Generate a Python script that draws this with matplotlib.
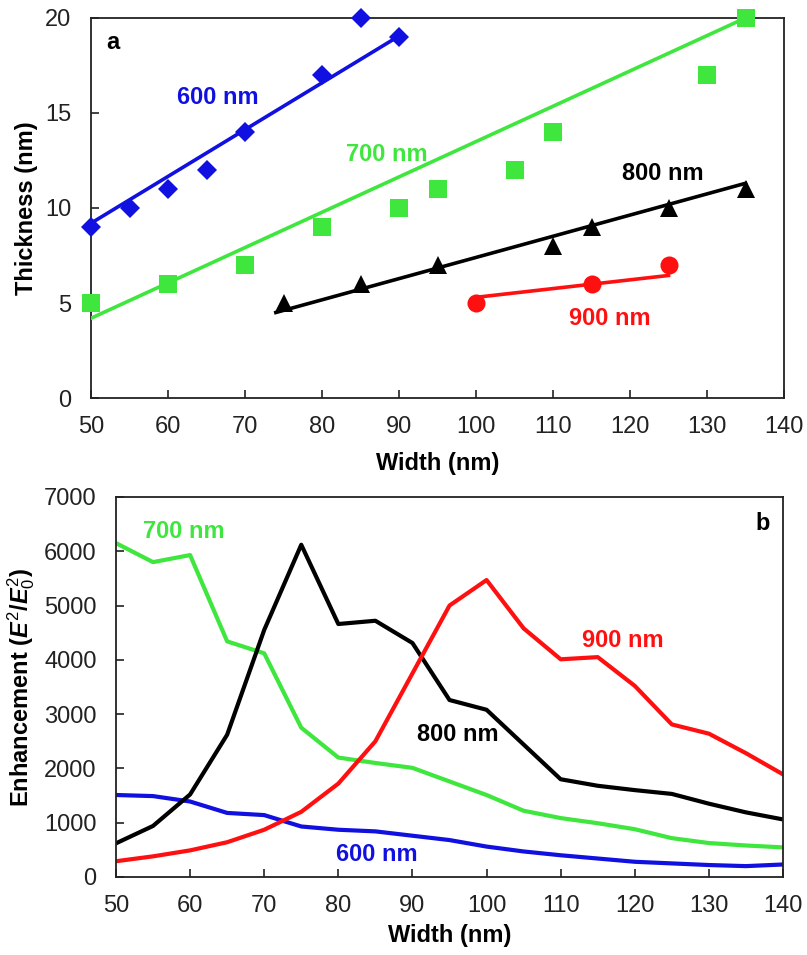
import matplotlib

matplotlib.use("Agg")
import matplotlib.pyplot as plt  # noqa: E402

plt.rcParams["font.family"] = ["Liberation Sans", "DejaVu Sans"]
plt.rcParams["mathtext.fontset"] = "custom"
plt.rcParams["mathtext.it"] = "Liberation Sans:italic:bold"
plt.rcParams["mathtext.rm"] = "Liberation Sans"

BLUE = "#1010e0"
GREEN = "#3ee63e"
BLACK = "#000000"
RED = "#ff1010"

# --- panel a: thickness vs width (markers) and trend lines ---
w600 = [50, 55, 60, 65, 70, 80, 85, 90]
t600 = [9, 10, 11, 12, 14, 17, 20, 19]
w700 = [50, 60, 70, 80, 90, 95, 105, 110, 130, 135]
t700 = [5, 6, 7, 9, 10, 11, 12, 14, 17, 20]
w800 = [75, 85, 95, 110, 115, 125, 135]
t800 = [5, 6, 7, 8, 9, 10, 11]
w900 = [100, 115, 125]
t900 = [5, 6, 7]

fit600_x, fit600_y = [50, 90], [9.2, 19.05]
fit700_x, fit700_y = [50, 135], [4.2, 20.0]
fit800_x, fit800_y = [74, 135], [4.5, 11.3]
fit900_x, fit900_y = [100, 125], [5.3, 6.45]

# --- panel b: enhancement vs width ---
width_b = [50, 55, 60, 65, 70, 75, 80, 85, 90, 95, 100, 105, 110, 115, 120, 125, 130, 135, 140]
enh600 = [1510, 1490, 1390, 1180, 1140, 930, 870, 840, 760, 680, 560, 470, 400, 340, 280, 250, 220, 200, 230]
enh700 = [6150, 5800, 5930, 4340, 4120, 2750, 2200, 2100, 2010, 1760, 1510, 1220, 1085, 990, 880, 715, 625, 580, 545]
enh800 = [620, 940, 1520, 2620, 4550, 6120, 4660, 4720, 4310, 3260, 3080, 2440, 1800, 1680, 1600, 1530, 1350, 1190, 1060]
enh900 = [290, 380, 490, 640, 870, 1200, 1720, 2500, 3750, 5000, 5470, 4580, 4010, 4050, 3520, 2810, 2640, 2280, 1890]

FS = 17
fig = plt.figure(figsize=(8.07, 9.55), dpi=100)
ax1 = fig.add_axes([0.1128, 0.5832, 0.8587, 0.398])
ax2 = fig.add_axes([0.1437, 0.0817, 0.8266, 0.3979])

for ax in (ax1, ax2):
    ax.tick_params(direction="in", length=6, width=1.2, labelsize=FS, colors="#222222")
    ax.tick_params(axis="x", pad=13)
    ax.tick_params(axis="y", pad=14)
    for s in ax.spines.values():
        s.set_linewidth(1.3)
        s.set_color("#222222")
    ax.set_xlim(50, 140)
    ax.set_xticks(range(50, 141, 10))

ax1.set_xlabel("Width (nm)", fontsize=FS, fontweight="bold", labelpad=10)
ax2.set_xlabel("Width (nm)", fontsize=FS, fontweight="bold", labelpad=5)

lw = 2.6
ax1.plot(fit600_x, fit600_y, color=BLUE, lw=lw, zorder=3)
ax1.plot(fit700_x, fit700_y, color=GREEN, lw=lw, zorder=3)
ax1.plot(fit800_x, fit800_y, color=BLACK, lw=lw, zorder=3)
ax1.plot(fit900_x, fit900_y, color=RED, lw=lw, zorder=3)
ax1.plot(w600, t600, "D", color=BLUE, ms=10, mew=0, clip_on=False, zorder=4)
ax1.plot(w700, t700, "s", color=GREEN, ms=13, mew=0, clip_on=False, zorder=4)
ax1.plot(w800, t800, "^", color=BLACK, ms=13.5, mew=0, clip_on=False, zorder=4)
ax1.plot(w900, t900, "o", color=RED, ms=13, mew=0, clip_on=False, zorder=4)
ax1.set_ylim(0, 20)
ax1.set_yticks(range(0, 21, 5))
ax1.set_ylabel("Thickness (nm)", fontsize=FS, fontweight="bold", labelpad=5)

tkw = dict(fontsize=FS, fontweight="bold", ha="center", va="center")
ax1.text(52.9, 18.7, "a", color=BLACK, **tkw)
ax1.text(66.5, 15.8, "600 nm", color=BLUE, **tkw)
ax1.text(88.4, 12.8, "700 nm", color=GREEN, **tkw)
ax1.text(124.3, 11.84, "800 nm", color=BLACK, **tkw)
ax1.text(117.4, 4.16, "900 nm", color=RED, **tkw)

lw2 = 3.0
ax2.plot(width_b, enh600, color=BLUE, lw=lw2)
ax2.plot(width_b, enh700, color=GREEN, lw=lw2)
ax2.plot(width_b, enh800, color=BLACK, lw=lw2)
ax2.plot(width_b, enh900, color=RED, lw=lw2)
ax2.set_ylim(0, 7000)
ax2.set_yticks(range(0, 7001, 1000))
ax2.set_ylabel("Enhancement (" + r"$E^{2}$/$E_{0}^{2}$" + ")", fontsize=FS,
               fontweight="bold", labelpad=5)

ax2.text(137.2, 6520, "b", color=BLACK, **tkw)
ax2.text(59.2, 6360, "700 nm", color=GREEN, **tkw)
ax2.text(96.1, 2616, "800 nm", color=BLACK, **tkw)
ax2.text(118.4, 4365, "900 nm", color=RED, **tkw)
ax2.text(85.2, 405, "600 nm", color=BLUE, **tkw)

fig.savefig("out.png", dpi=100, facecolor="white")
